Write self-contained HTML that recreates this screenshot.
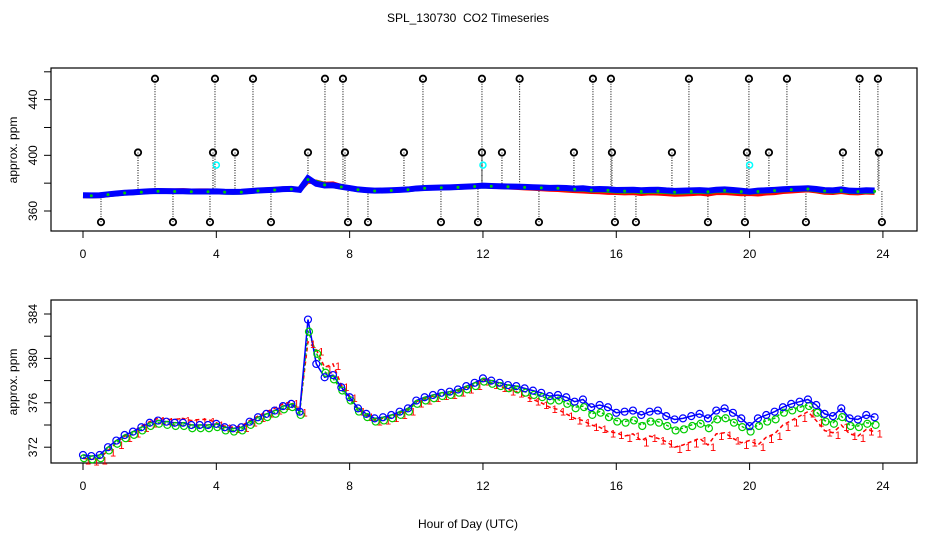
<!DOCTYPE html>
<html><head><meta charset="utf-8"><style>
body{margin:0;background:#fff}
svg{display:block;font-family:"Liberation Sans",sans-serif}
text{white-space:pre}
</style></head><body>
<svg id="c" width="936" height="540" viewBox="0 0 936 540"></svg>
<script>
const hours=[];for(let i=0;i<96;i++)hours.push(i*0.25);
const series3=[371.3,371.2,371.3,372.0,372.6,373.1,373.4,373.8,374.2,374.4,374.3,374.2,374.2,374.0,374.0,374.0,374.1,373.8,373.7,373.8,374.3,374.7,375.0,375.3,375.7,375.9,375.2,383.5,379.5,378.3,378.5,377.4,376.5,375.5,375.0,374.6,374.7,374.9,375.2,375.5,376.2,376.5,376.7,376.9,377.0,377.2,377.5,377.8,378.2,378.0,377.8,377.6,377.5,377.3,377.1,376.9,376.6,376.7,376.5,376.1,376.3,375.6,375.8,375.6,375.1,375.2,375.3,374.9,375.2,375.3,374.8,374.5,374.6,374.8,375.0,374.6,375.3,375.5,375.1,374.6,373.9,374.6,374.9,375.2,375.6,375.9,376.1,376.3,375.8,375.0,374.8,375.5,374.6,374.5,374.9,374.7];
const series2=[371.1,371.0,371.1,371.8,372.4,372.9,373.2,373.6,374.0,374.2,374.1,374.0,374.0,373.8,373.8,373.8,373.9,373.6,373.5,373.6,374.1,374.5,374.8,375.1,375.5,375.7,375.0,382.5,380.5,378.8,378.2,377.2,376.3,375.3,374.8,374.4,374.5,374.7,375.0,375.3,376.0,376.3,376.5,376.7,376.8,377.0,377.3,377.6,378.0,377.8,377.6,377.4,377.3,377.0,376.8,376.6,376.3,376.3,376.0,375.6,375.7,375.0,375.2,374.8,374.4,374.3,374.5,374.0,374.4,374.3,374.0,373.6,373.7,374.0,374.2,373.8,374.6,374.7,374.3,373.9,373.5,374.0,374.4,374.6,375.2,375.4,375.6,375.8,375.2,374.4,374.2,374.8,374.0,373.9,374.2,374.1];
const series1=[371.0,370.9,371.0,371.7,372.4,373.0,373.4,373.9,374.3,374.6,374.5,374.5,374.6,374.4,374.5,374.5,374.2,373.9,373.8,373.9,374.4,374.8,375.2,375.5,375.9,376.1,375.3,381.5,380.8,379.2,379.5,377.6,376.6,375.4,374.9,374.5,374.6,374.8,375.1,375.4,376.1,376.4,376.6,376.8,376.9,377.1,377.4,377.7,378.1,377.8,377.5,377.2,377.0,376.6,376.3,376.0,375.6,375.4,375.0,374.6,374.4,374.0,373.8,373.4,373.3,373.0,373.2,372.6,373.0,372.8,372.5,372.0,372.2,372.5,372.8,372.2,373.2,373.3,372.8,372.4,372.6,372.2,372.9,373.2,374.0,374.4,374.8,375.2,374.4,373.5,373.3,374.0,373.2,373.0,373.6,373.4];
const hiOut=[2.16,3.96,5.1,7.26,7.8,10.2,11.97,13.1,15.3,15.84,18.18,19.98,21.12,23.3,23.85];
const midOut=[1.65,3.9,4.56,6.75,7.86,9.63,11.97,12.57,14.73,15.87,17.67,19.92,20.58,22.8,23.88];
const loOut=[0.54,2.7,3.81,5.64,7.95,8.55,10.74,11.85,13.68,15.96,16.59,18.75,19.86,21.69,23.97];
const outVals=[455,402,352];
const calHours=[4.0,12.0,20.0];
const calVal=[393];
const xTicks=[0,4,8,12,16,20,24];
const topTicks=[360,400,440];const topMinor=[380,420,460];
const botTicks=[372,376,380,384];const botMinor=[374,378,382];

const NS="http://www.w3.org/2000/svg";const svg=document.getElementById('c');
function el(t,a,p){const e=document.createElementNS(NS,t);for(const k in a)e.setAttribute(k,a[k]);(p||svg).appendChild(e);return e;}
const X=h=>83+h*33.33;
const Yt=v=>211-(v-360)*1.392;
const Yb=v=>314+(384-v)*11.1;
function interp(h){const i=Math.min(95,Math.max(0,Math.round(h/0.25)));return series3[i];}

let t=el('text',{x:468,y:22,'text-anchor':'middle','font-size':12});t.textContent='SPL_130730  CO2 Timeseries';

t=el('text',{x:468,y:528,'text-anchor':'middle','font-size':12});t.textContent='Hour of Day (UTC)';


function frame(y0,y1,name,ticks,minor,Y,labY){
 const g=el('g',{});
 el('rect',{x:51,y:y0,width:866,height:y1-y0,fill:'none',stroke:'#000','stroke-width':1.2},g);
 xTicks.forEach(h=>{el('line',{x1:X(h),x2:X(h),y1:y1,y2:y1+7,stroke:'#000'},g);
  const tx=el('text',{x:X(h),y:y1+27,'text-anchor':'middle','font-size':12},g);tx.textContent=h;
  });
 ticks.concat(minor).forEach(v=>el('line',{x1:44,x2:51,y1:Y(v),y2:Y(v),stroke:'#000'},g));
 ticks.forEach(v=>{const tx=el('text',{x:0,y:0,'text-anchor':'middle','font-size':12,transform:`translate(37,${Y(v)}) rotate(-90)`},g);tx.textContent=v;
  });
 const yl=el('text',{x:0,y:0,'text-anchor':'middle','font-size':12,transform:`translate(17,${labY}) rotate(-90)`},g);yl.textContent='approx. ppm';
 
 return g;
}
const gt=frame(68,231,'top-panel',topTicks,topMinor,Yt,150);
const gb=frame(300,463,'bottom-panel',botTicks,botMinor,Yb,382);

[hiOut,midOut,loOut].forEach((arr,k)=>arr.forEach(h=>{
 el('line',{x1:X(h),x2:X(h),y1:Yt(outVals[k]),y2:Yt(interp(h)),stroke:'#000','stroke-dasharray':'1,1.5'},gt);
 const c=el('circle',{cx:X(h),cy:Yt(outVals[k]),r:3.2,fill:'none',stroke:'#000','stroke-width':1.8},gt);
 
}));
function pts(arr,Y){return arr.map((v,i)=>X(hours[i])+','+Y(v)).join(' ');}
let p=el('polyline',{points:pts(series1,Yt),fill:'none',stroke:'#f00','stroke-width':5},gt);

p=el('polyline',{points:pts(series2,Yt),fill:'none',stroke:'#0c0','stroke-width':5},gt);

p=el('polyline',{points:pts(series3,Yt),fill:'none',stroke:'#00f','stroke-width':6},gt);

series2.forEach((v,i)=>{if(i%2)el('circle',{cx:X(hours[i]),cy:Yt(v),r:1.5,fill:'#0c0'},gt);});
calHours.forEach(h=>{const c=el('circle',{cx:X(h),cy:Yt(calVal[0]),r:3,fill:'none',stroke:'#0ff','stroke-width':1.5},gt);
 });

p=el('polyline',{points:pts(series1,Yb),fill:'none',stroke:'#f00','stroke-width':1.5,'stroke-dasharray':'4,3'},gb);

p=el('polyline',{points:pts(series2,Yb),fill:'none',stroke:'#0c0','stroke-width':1.5,'stroke-dasharray':'3,2'},gb);

p=el('polyline',{points:pts(series3,Yb),fill:'none',stroke:'#00f','stroke-width':1.5},gb);

series1.forEach((v,i)=>{const tx=el('text',{x:X(hours[i])+2,y:Yb(v)+6,'font-size':11,fill:'#f00'},gb);tx.textContent='1';
 });
series2.forEach((v,i)=>{const c=el('circle',{cx:X(hours[i])+1,cy:Yb(v)+1,r:3.5,fill:'none',stroke:'#0c0','stroke-width':1.2},gb);
 });
series3.forEach((v,i)=>{const c=el('circle',{cx:X(hours[i]),cy:Yb(v),r:3.5,fill:'none',stroke:'#00f','stroke-width':1.2},gb);
 });
</script>
</body></html>
